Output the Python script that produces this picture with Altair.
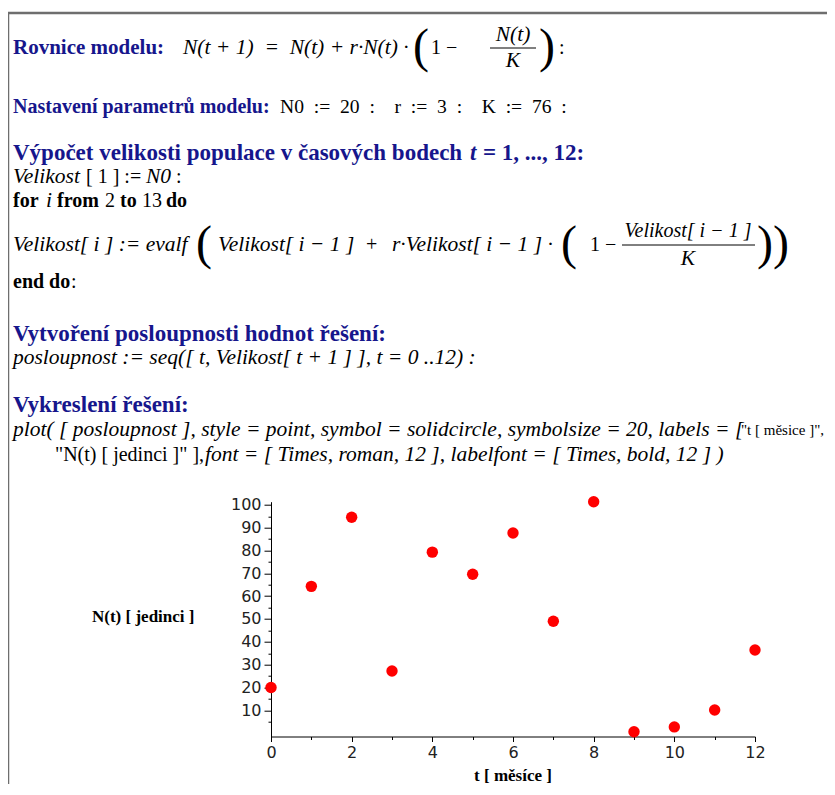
import altair as alt
import pandas as pd

# ---------------- data ----------------
t_values = [0, 1, 2, 3, 4, 5, 6, 7, 8, 9, 10, 11, 12]
n_values = [20.0, 64.3, 94.6, 27.2, 79.3, 69.6, 87.7, 49.0, 101.4, 0.6, 2.7, 10.1, 36.4]
x_ticks = list(range(0, 13))
y_ticks = list(range(5, 101, 5))
x_title = "t [ měsíce ]"
y_title = "N(t) [ jedinci ]"

# ---------------- layout (page pixels) ----------------
X0, Y0 = 271.0, 501.7          # page position of the plot origin
PW, PH = 484, 234.8            # plot area size
SVG_W, SVG_H = 819, 776
PAD_L, PAD_T = X0 - 8, Y0 - 8
PAD_R = SVG_W - PAD_L - PW
PAD_B = SVG_H - PAD_T - PH


def px(X):
    return X - X0


def py(Y):
    return Y - Y0


SERIF = "Liberation Serif"
NAVY = "#16168c"
STYLES = {
    "H": dict(font=SERIF, fontSize=21, fontWeight="bold", color=NAVY),
    "H2": dict(font=SERIF, fontSize=20, fontWeight="bold", color=NAVY),
    "HL": dict(font=SERIF, fontSize=23, fontWeight="bold", color=NAVY),
    "HLI": dict(font=SERIF, fontSize=23, fontWeight="bold", fontStyle="italic", color=NAVY),
    "B": dict(font=SERIF, fontSize=20, fontWeight="bold", color="black"),
    "I": dict(font=SERIF, fontSize=21.5, fontStyle="italic", color="black"),
    "If": dict(font=SERIF, fontSize=20, fontStyle="italic", color="black"),
    "R": dict(font=SERIF, fontSize=20, color="black"),
    "Rs": dict(font=SERIF, fontSize=19.6, color="black"),
    "Rq": dict(font=SERIF, fontSize=15, color="black"),
    "P": dict(font=SERIF, fontSize=48, color="black"),
    "L": dict(font=SERIF, fontSize=17, fontWeight="bold", color="black"),
}
EN = "\u2002"
EM = "\u2003"

# (text, page x, page y (centre), style, align)
segments = [
    ("Rovnice modelu:", 13, 48, "H", "left"),
    ("N(t + 1)" + EN + "=" + EN + "N(t) + r·N(t) ·", 183, 48, "I", "left"),
    ("(", 413, 48, "P", "left"),
    ("1 −", 431, 48, "R", "left"),
    ("N(t)", 513, 35, "I", "center"),
    ("K", 513, 61, "I", "center"),
    (")", 539, 48, "P", "left"),
    (":", 559, 48, "R", "left"),

    ("Nastavení parametrů modelu:", 13, 107, "H2", "left"),
    ("N0" + EN + ":=" + EN + "20" + EN + ":" + EM + "r" + EN + ":=" + EN + "3" + EN + ":" + EM
     + "K" + EN + ":=" + EN + "76" + EN + ":", 280, 107, "Rs", "left"),

    ("Výpočet velikosti populace v časových bodech", 13, 153, "HL", "left"),
    ("t", 470, 153, "HLI", "left"),
    ("= 1, ..., 12:", 483, 153, "HL", "left"),

    ("Velikost", 13, 177, "I", "left"),
    ("[ 1 ] :=", 86, 177, "R", "left"),
    ("N0", 146, 177, "I", "left"),
    (":", 176, 177, "R", "left"),

    ("for", 13, 201, "B", "left"),
    ("i", 46, 201, "I", "left"),
    ("from", 57, 201, "B", "left"),
    ("2", 105, 201, "R", "left"),
    ("to", 120, 201, "B", "left"),
    ("13", 142, 201, "R", "left"),
    ("do", 166, 201, "B", "left"),

    ("Velikost[ i ] := evalf", 13, 245, "I", "left"),
    ("(", 196, 245, "P", "left"),
    ("Velikost[ i − 1 ]", 218, 245, "I", "left"),
    ("+", 366, 245, "R", "left"),
    ("r·Velikost[ i − 1 ] ·", 392, 245, "I", "left"),
    ("(", 561, 245, "P", "left"),
    ("1 −", 590, 245, "R", "left"),
    ("Velikost[ i − 1 ]", 688, 231, "If", "center"),
    ("K", 688, 259, "I", "center"),
    ("))", 757, 245, "P", "left"),

    ("end do", 13, 282, "B", "left"),
    (":", 71, 282, "R", "left"),

    ("Vytvoření posloupnosti hodnot řešení:", 13, 334, "HL", "left"),
    ("posloupnost := seq([ t, Velikost[ t + 1 ] ], t = 0 ..12) :", 13, 358, "I", "left"),

    ("Vykreslení řešení:", 13, 405, "HL", "left"),
    ("plot( [ posloupnost ], style = point, symbol = solidcircle, symbolsize = 20, labels = [",
     13, 430, "I", "left"),
    ("\"t [ měsice ]\",", 741, 430, "Rq", "left"),
    ("\"N(t) [ jedinci ]\" ],", 55, 455, "R", "left"),
    ("font = [ Times, roman, 12 ], labelfont = [ Times, bold, 12 ] )", 205, 455, "I", "left"),

    (y_title, 92, 617, "L", "left"),
    (x_title, 513, 776, "L", "center"),
]

# fraction bars and frame lines: (x1, x2, y, width, color)
rules_h = [
    (490, 536, 48, 1, "black"),
    (622, 755, 245, 1, "black"),
    (8, 827, 13, 2.5, "#6e6e6e"),
]
rules_v = [
    (8, 12, 784, 2.5, "#6e6e6e"),
]

# ---------------- scatter ----------------
df = pd.DataFrame({"t": t_values, "N": n_values})

x_axis = alt.Axis(
    values=x_ticks,
    labelExpr="datum.value % 2 === 0 ? datum.label : ''",
    tickSize={"condition": {"test": "datum.value % 2 === 0", "value": 5}, "value": 3},
    title=None, grid=False, domainColor="#000", tickColor="#000",
    labelFont="DejaVu Sans", labelFontSize=16, labelColor="#222",
    labelPadding=3, labelOverlap=False, labelFlush=False,
)
y_axis = alt.Axis(
    values=y_ticks,
    labelExpr="datum.value % 10 === 0 ? datum.label : ''",
    tickSize={"condition": {"test": "datum.value % 10 === 0", "value": 7}, "value": 3},
    title=None, grid=False, domainColor="#000", tickColor="#000",
    labelFont="DejaVu Sans", labelFontSize=16, labelColor="#222",
    labelPadding=3, labelOverlap=False, labelFlush=False,
)

points = alt.Chart(df).mark_circle(size=130, color="#ff0000", opacity=1).encode(
    x=alt.X("t:Q", scale=alt.Scale(domain=[0, 12], nice=False, zero=False), axis=x_axis),
    y=alt.Y("N:Q", scale=alt.Scale(domain=[-1.5, 101.4], nice=False, zero=False), axis=y_axis),
)

layers = [points]
one = pd.DataFrame({"k": [0]})
for text, X, Y, st, al in segments:
    layers.append(
        alt.Chart(pd.DataFrame({"s": [text]}))
        .mark_text(align=al, baseline="middle", **STYLES[st])
        .encode(text="s:N", x=alt.value(px(X)), y=alt.value(py(Y)))
    )
for x1, x2, y, w, c in rules_h:
    layers.append(
        alt.Chart(one).mark_rule(color=c, strokeWidth=w)
        .encode(x=alt.value(px(x1)), x2=alt.value(px(x2)), y=alt.value(py(y)))
    )
for x, y1, y2, w, c in rules_v:
    layers.append(
        alt.Chart(one).mark_rule(color=c, strokeWidth=w)
        .encode(x=alt.value(px(x)), y=alt.value(py(y1)), y2=alt.value(py(y2)))
    )

chart = (
    alt.layer(*layers)
    .properties(
        width=PW, height=PH,
        padding={"left": PAD_L, "top": PAD_T, "right": PAD_R, "bottom": PAD_B},
        autosize=alt.AutoSizeParams(type="none"),
        background="white",
    )
    .configure_view(strokeWidth=0)
)

chart.save("out.html", embed_options={"renderer": "svg", "actions": False})
